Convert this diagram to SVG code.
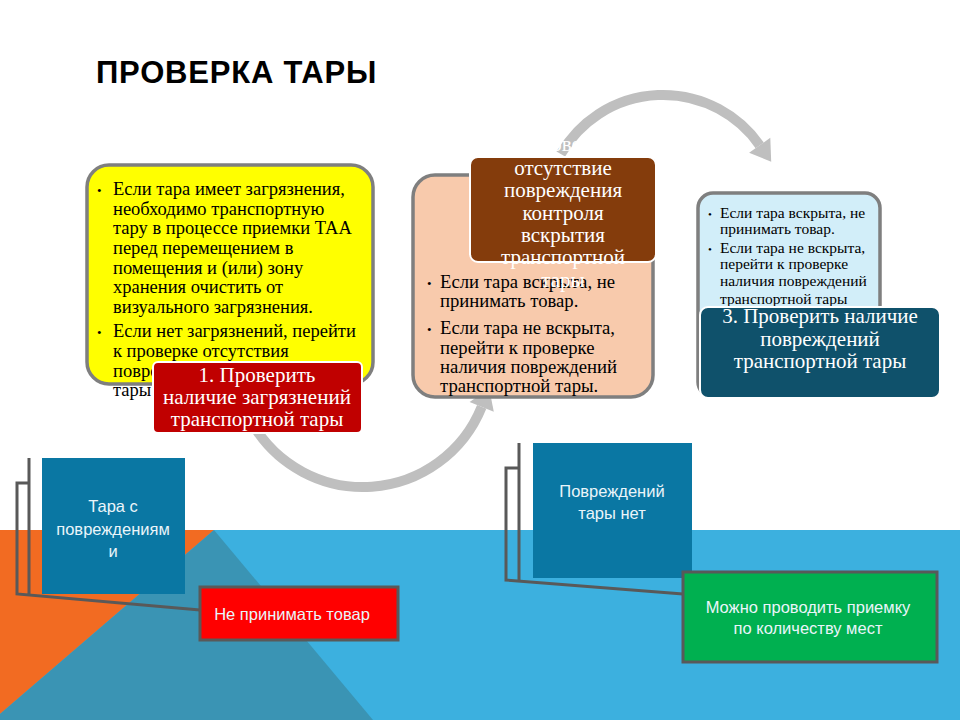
<svg xmlns="http://www.w3.org/2000/svg" width="960" height="720" viewBox="0 0 960 720">
<style>
.title{font-family:"Liberation Sans",Arial,sans-serif;font-weight:bold;font-size:31px;letter-spacing:0.8px;fill:#000}
.serif{font-family:"Liberation Serif","Times New Roman",serif}
.body{font-size:18.5px;fill:#000}
.peach{font-size:18.7px;fill:#000}
.small{font-size:15.5px;fill:#000}
.head{font-size:21px;fill:#fff;text-anchor:middle}
.sans{font-family:"Liberation Sans",Arial,sans-serif;font-size:16.5px;fill:#EAF5FA;text-anchor:middle}
.box{stroke:#7F7F7F;stroke-width:3.5}
.hbox{stroke:#fff;stroke-width:2}
.arc{fill:none;stroke:#BFBFBF;stroke-width:10}
.head-tri{fill:#BFBFBF}
.brk{fill:none;stroke:#595959;stroke-width:3}
.leaf{stroke:#595959;stroke-width:3}
</style>
<rect x="0" y="0" width="960" height="720" fill="#fff"/>
<g id="background">
<rect x="0" y="530" width="960" height="190" fill="#3CB0DF"/>
<polygon points="0,530 214,530 0,714" fill="#F26B22"/>
<polygon points="214,530 373,720 0,720 0,714" fill="#3A94B4"/>
</g>
<g id="title"><text class="title" x="96" y="83">ПРОВЕРКА ТАРЫ</text></g>
<g id="connectors">
<path class="arc" d="M252.1,423 A128,128 0 0 0 481.7,406.9"/>
<polygon class="head-tri" points="493.8,411.8 489.2,388.4 469.6,402"/>
<path class="arc" d="M560.8,154 A118,118 0 0 1 759.7,145.3"/>
<polygon class="head-tri" points="770.3,137.8 771.2,161.7 749.1,152.8"/>
<path class="brk" d="M29,458 V595 M29,483 H17 V594 L200,610"/>
<path class="brk" d="M519,443 V580 M519,468 H506 V580 L683,594"/>
</g>
<g id="node-yellow">
<rect class="box" x="87" y="165" width="286" height="219" rx="22" fill="#FFFF00"/>
<g class="serif body">
<text x="97" y="195" font-size="13">•</text>
<text x="113" y="195">Если тара имеет загрязнения,</text>
<text x="113" y="215">необходимо транспортную</text>
<text x="113" y="234">тару в процессе приемки ТАА</text>
<text x="113" y="254">перед перемещением в</text>
<text x="113" y="274">помещения и (или) зону</text>
<text x="113" y="293">хранения очистить от</text>
<text x="113" y="313">визуального загрязнения.</text>
<text x="97" y="337" font-size="13">•</text>
<text x="113" y="337">Если нет загрязнений, перейти</text>
<text x="113" y="357">к проверке отсутствия</text>
<text x="113" y="377">повреждения транспортной</text>
<text x="113" y="396">тары</text>
</g>
</g>
<g id="node-1">
<rect class="hbox" x="153" y="362" width="209" height="71" rx="5" fill="#C00000"/>
<g class="serif head">
<text x="257" y="382">1. Проверить</text>
<text x="257" y="404">наличие загрязнений</text>
<text x="257" y="426">транспортной тары</text>
</g>
</g>
<g id="node-peach">
<rect class="box" x="413" y="175" width="240" height="222" rx="22" fill="#F8CAAC"/>
<g class="serif peach">
<text x="427" y="288" font-size="13">•</text>
<text x="440" y="288">Если тара вскрыта, не</text>
<text x="440" y="307">принимать товар.</text>
<text x="427" y="334" font-size="13">•</text>
<text x="440" y="334">Если тара не вскрыта,</text>
<text x="440" y="354">перейти к проверке</text>
<text x="440" y="373">наличия повреждений</text>
<text x="440" y="392">транспортной тары.</text>
</g>
</g>
<g id="node-2">
<rect class="hbox" x="470" y="157" width="186" height="105" rx="8" fill="#843C0C"/>
<g class="serif head">
<text x="563" y="151">2. Проверить</text>
<text x="563" y="175">отсутствие</text>
<text x="563" y="197">повреждения</text>
<text x="563" y="220">контроля</text>
<text x="563" y="242">вскрытия</text>
<text x="563" y="264">транспортной</text>
<text x="563" y="287">тары</text>
</g>
</g>
<g id="node-lightblue">
<rect class="box" x="698" y="193" width="182" height="204" rx="15" fill="#D2EEF9"/>
<g class="serif small">
<text x="708" y="218" font-size="11">•</text>
<text x="720" y="218">Если тара вскрыта, не</text>
<text x="720" y="234">принимать товар.</text>
<text x="708" y="253" font-size="11">•</text>
<text x="720" y="253">Если тара не вскрыта,</text>
<text x="720" y="269">перейти к проверке</text>
<text x="720" y="286">наличия повреждений</text>
<text x="720" y="304">транспортной тары</text>
</g>
</g>
<g id="node-3">
<rect class="hbox" x="700" y="307" width="240" height="91" rx="8" fill="#0F516B"/>
<g class="serif head">
<text x="820" y="323">3. Проверить наличие</text>
<text x="820" y="346">повреждений</text>
<text x="820" y="368">транспортной тары</text>
</g>
</g>
<g id="node-damaged">
<rect x="42" y="458" width="143" height="136" fill="#0A77A3"/>
<g class="sans">
<text x="113" y="512">Тара с</text>
<text x="113" y="535">повреждениям</text>
<text x="113" y="557">и</text>
</g>
</g>
<g id="node-reject">
<rect class="leaf" x="200" y="587" width="198" height="53" fill="#FF0000"/>
<text class="sans" x="292" y="620">Не принимать товар</text>
</g>
<g id="node-nodamage">
<rect x="533" y="443" width="159" height="135" fill="#0A77A3"/>
<g class="sans">
<text x="612" y="497">Повреждений</text>
<text x="612" y="519">тары нет</text>
</g>
</g>
<g id="node-accept">
<rect class="leaf" x="683" y="572" width="254" height="90" fill="#00B050"/>
<g class="sans">
<text x="808" y="613">Можно проводить приемку</text>
<text x="808" y="634">по количеству мест</text>
</g>
</g>
</svg>
